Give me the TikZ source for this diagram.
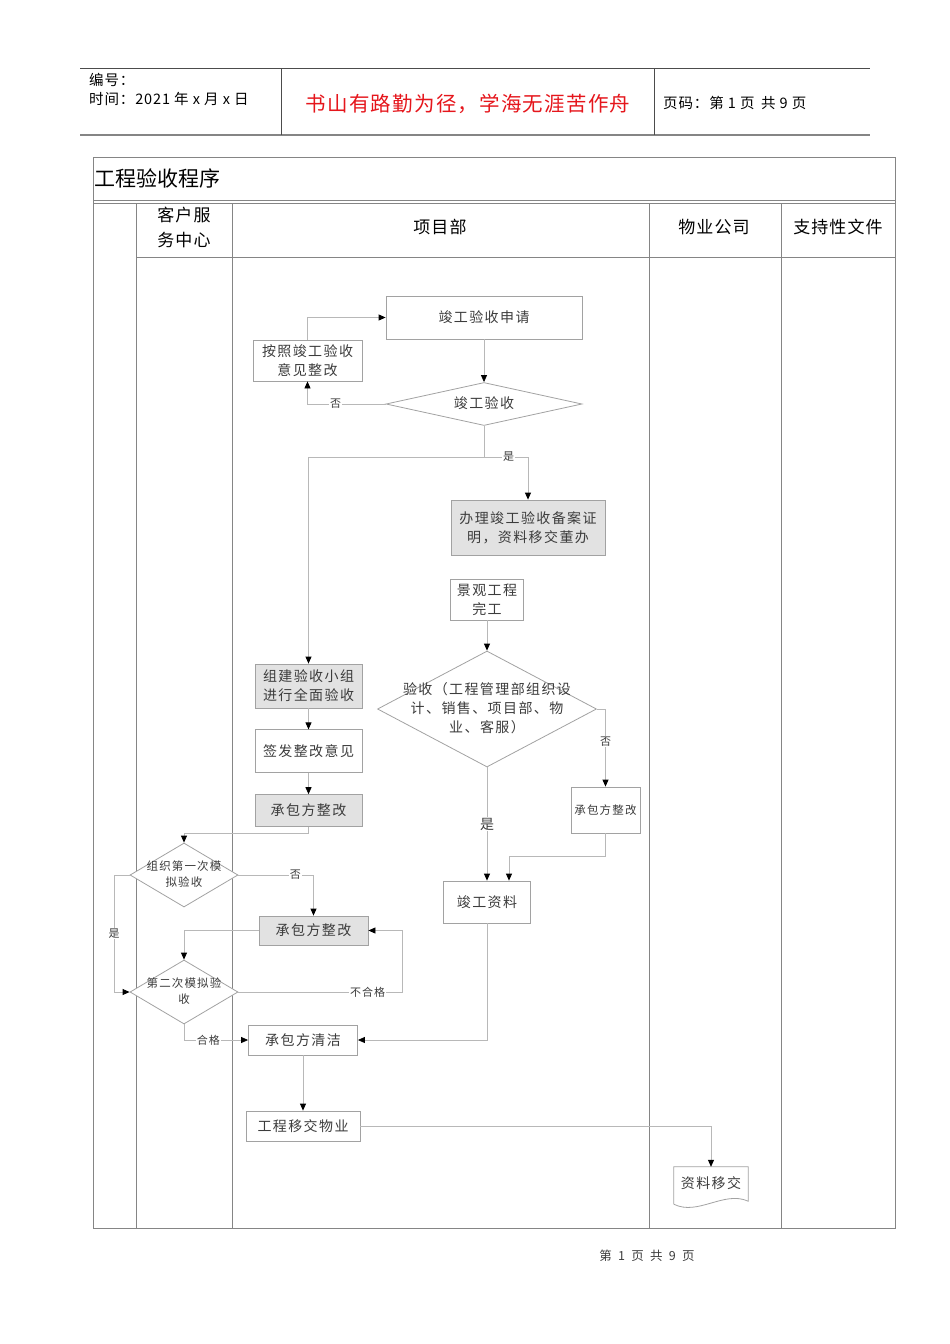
\documentclass[tikz,border=0pt]{standalone}
\usepackage{fontspec}
\setmainfont{Noto Sans CJK SC}
\newfontfamily\spacedcjk{Noto Sans CJK SC}[LetterSpace=10]
\newfontfamily\widecjk{Noto Sans CJK SC}[LetterSpace=6]
\usetikzlibrary{arrows.meta}
\usetikzlibrary{shapes.geometric}
\usetikzlibrary{positioning}
\definecolor{framegray}{HTML}{858585}
\definecolor{boxgray}{HTML}{A2A2A2}
\definecolor{linegray}{HTML}{B8B8B8}
\definecolor{fillgray}{HTML}{E2E2E2}
\definecolor{textgray}{HTML}{3C3C3C}
\definecolor{mottored}{HTML}{E5161C}
\newcommand\flowfont{\spacedcjk\fontsize{14}{19}\selectfont}
\newcommand\smallflow{\spacedcjk\fontsize{11.5}{16}\selectfont}
\newcommand\tagfont{\spacedcjk\fontsize{11}{12}\selectfont}
\newcommand\lanefont{\widecjk\fontsize{17}{25}\selectfont}
\newcommand\headfont{\widecjk\fontsize{14.5}{19}\selectfont}
% text of a decision that may run past the diamond's edge
\newcommand\dtext[1]{\makebox[0pt]{\smash{\raisebox{-.3em}{\begin{tabular}{@{}c@{}}#1\end{tabular}}}}}
\tikzset {
  frame line/.style = {
    draw = framegray,
    line width = 0.8pt
  },
  head line/.style = {
    draw = black!70,
    line width = 0.8pt
  },
  % connectors
  conn/.style = {
    draw = linegray,
    line width = 0.8pt
  },
  arr/.style = {
    conn,
    -{Triangle[length=7pt, width=6pt, color=black]}
  },
  tag/.style = {
    fill = white,
    inner sep = 1pt,
    font = \tagfont,
    text = textgray
  }
}
\tikzset {
  flow node/.style = {
    draw = boxgray,
    line width = 0.8pt,
    fill = white,
    inner sep = 0,
    text = textgray
  },
  % plain step
  stepbox/.style = {
    flow node,
    rectangle,
    align = center,
    font = \flowfont
  },
  % shaded step
  shadebox/.style = {
    stepbox,
    fill = fillgray
  },
  decision/.style = {
    flow node,
    diamond,
    font = \flowfont
  },
  document/.style = {
    rectangle,
    inner sep = 0,
    text = textgray,
    font = \flowfont
  },
  document edge/.style = {
    draw = boxgray,
    line width = 0.8pt
  }
}

\begin{document}
\begin{tikzpicture}[x=1pt, y=-1pt]
  \useasboundingbox (0,0) rectangle (950,1344);

  % page head
  \draw[head line] (80,68) -- (870,68);
  \draw[frame line, line width=1.6pt] (80,135) -- (870,135);
  \draw[head line] (281,68) -- (281,135);
  \draw[head line] (654,68) -- (654,135);
  \node[anchor=west, inner sep=0, font=\headfont] (serial) at (89,80) {编号：};
  \node[anchor=west, inner sep=0, font=\headfont] (date) at (89,99) {时间：2021 年 x 月 x 日};
  \node[font=\widecjk\fontsize{20.5}{24}\selectfont, text=mottored] (motto) at (468,104) {书山有路勤为径，学海无涯苦作舟};
  \node[anchor=west, inner sep=0, font=\headfont] (page-no) at (663,103) {页码：第 1 页\, 共 9 页};

  % lanes
  \draw[frame line] (93,157) rectangle (895,1228);
  \draw[frame line] (93,200) -- (895,200);
  \draw[frame line] (93,203) -- (895,203);
  \draw[frame line] (136,257) -- (895,257);
  \foreach \x in {136,232,649,781}
    \draw[frame line] (\x,203) -- (\x,1228);
  \node[anchor=west, inner sep=0, font=\fontsize{21}{24}\selectfont] (title) at (94,178) {工程验收程序};
  \node[align=center, font=\lanefont] (lane-service) at (184,227) {客户服\\务中心};
  \node[font=\lanefont] (lane-project) at (440,227) {项目部};
  \node[font=\lanefont] (lane-property) at (714,227) {物业公司};
  \node[font=\lanefont] (lane-docs) at (838,227) {支持性文件};

  % steps
  \node[stepbox, minimum width=196, minimum height=43] (apply) at (484,317.5) {竣工验收申请};
  \node[stepbox, minimum width=109, minimum height=41] (fix-opinion) at (307.5,360.5) {按照竣工验收\\意见整改};
  \node[decision, minimum width=196, minimum height=43] (check) at (484,404) {\dtext{竣工验收}};
  \coordinate (check-split) at (484,457);
  \node[shadebox, minimum width=154, minimum height=55] (record) at (528,527.5) {办理竣工验收备案证\\明，资料移交董办};
  \node[stepbox, minimum width=73, minimum height=41] (landscape) at (487,599.5) {景观工程\\完工};
  \node[decision, minimum width=219, minimum height=116] (joint-check) at (487,709)
    {\dtext{验收（工程管理部组织设\\计、销售、项目部、物\\业、客服）}};
  \node[stepbox, font=\smallflow, minimum width=69, minimum height=46] (fix-joint) at (605.5,810) {承包方整改};
  \coordinate (fix-joint-merge) at (509,856);
  \node[stepbox, minimum width=87, minimum height=42] (as-built) at (487,902) {竣工资料};

  \node[shadebox, minimum width=107, minimum height=44] (team) at (308.5,686) {组建验收小组\\进行全面验收};
  \node[stepbox, minimum width=107, minimum height=43] (notice) [below=21pt of team] {签发整改意见};
  \node[shadebox, minimum width=107, minimum height=32] (fix-notice) [below=21pt of notice] {承包方整改};
  \coordinate (fix-notice-back) at (308.5,833);

  \node[decision, font=\smallflow, minimum width=108, minimum height=64] (mock-one) at (184,875) {\dtext{组织第一次模\\拟验收}};
  \coordinate (mock-one-pass) at (114,875);
  \node[shadebox, minimum width=109, minimum height=29] (fix-mock) at (313.5,930.5) {承包方整改};
  \node[decision, font=\smallflow, minimum width=108, minimum height=64] (mock-two) at (184,992) {\dtext{第二次模拟验\\收}};
  \coordinate (mock-two-fail) at (402,992);
  \node[stepbox, minimum width=109, minimum height=30] (clean) at (303,1040) {承包方清洁};
  \node[stepbox, minimum width=114, minimum height=30] (handover) at (303,1126) {工程移交物业};
  \node[document, minimum width=74, minimum height=32] (transfer) at (711,1183) {资料移交};
  \draw[document edge] ([yshift=-5pt]transfer.south west) -- (transfer.north west) -- (transfer.north east)
    -- ([yshift=-2pt]transfer.south east)
    .. controls ([xshift=-24pt, yshift=9pt]transfer.south east) and ([xshift=24pt, yshift=-17pt]transfer.south west)
    .. ([yshift=-5pt]transfer.south west);

  % connectors
  \draw[arr] (apply) -- (check);
  \draw[arr] (check.west) -| node[tag, pos=0.32] {否} (fix-opinion);
  \draw[arr] (fix-opinion.north) |- (apply.west);
  \draw[conn] (check.south) -- (check-split);
  \draw[arr] (check-split) -| node[tag, pos=0.28] {是} (record.north);
  \draw[arr] (check-split) -| (team.north);
  \draw[arr] (landscape) -- (joint-check);
  \draw[arr] (joint-check.east) -| node[tag, pos=0.71] {否} (fix-joint.north);
  \draw[arr] (joint-check.south) -- node[tag, font=\flowfont] {是} (as-built);
  \draw[arr] (fix-joint.south) |- (fix-joint-merge) -- (fix-joint-merge |- as-built.north);

  \draw[arr] (team) -- (notice);
  \draw[arr] (notice) -- (fix-notice);
  \draw[arr] (fix-notice.south) -- (fix-notice-back) -| (mock-one.north);
  \draw[arr] (mock-one.east) -| node[tag, pos=0.38] {否} (fix-mock.north);
  \draw[arr] (mock-one.west) -- (mock-one-pass) |- node[tag, pos=0.25] {是} (mock-two.west);
  \draw[arr] (fix-mock.west) -| (mock-two.north);
  \draw[arr] (mock-two.east) -- node[tag, pos=0.79] {不合格} (mock-two-fail) |- (fix-mock.east);
  \draw[arr] (mock-two.south) |- node[tag, pos=0.69] {合格} (clean.west);
  \draw[arr] (as-built.south) |- (clean.east);
  \draw[arr] (clean) -- (handover);
  \draw[arr] (handover.east) -| (transfer.north);

  \node[font=\fontsize{12.5}{14}\selectfont, text=textgray] (footer) at (647,1256) {第\enspace 1\enspace 页\enspace 共\enspace 9\enspace 页};
\end{tikzpicture}
\end{document}
